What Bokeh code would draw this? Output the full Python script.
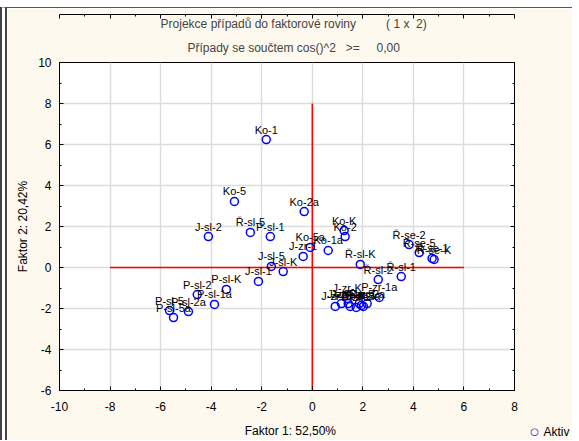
from bokeh.plotting import figure
from bokeh.models import (Range1d, FixedTicker, LinearAxis, Title, Label,
                          ColumnDataSource)
from bokeh.core.properties import value
from bokeh.embed import file_html
from bokeh.resources import INLINE

# ---- data ----
names = ["Ko-1", "Ko-5", "Ko-2a", "J-sl-2", "Ř-sl-5", "P-sl-1", "Ko-5a", "Ko-1a",
         "J-zr-1", "J-sl-5", "J-sl-K", "J-sl-1", "P-sl-K", "P-sl-2", "P-sl-1a",
         "P-sl-2a", "P-sl-5", "P-sl-5a", "Ko-K", "Ko-2", "Ř-sl-K", "Ř-sl-2",
         "Ř-sl-1", "Ř-se-2", "Ř-se-5", "Ř-se-1", "Ř-se-K",
         "J-zr-K", "P-zr-1a", "J-zr-2", "J-zr-5", "J-zr-1a", "P-zr-K", "P-zr-2",
         "P-zr-5", "P-zr-1", "J-zr-2a", "P-zr-2a"]
factor1 = [-1.82, -3.08, -0.32, -4.11, -2.45, -1.66, -0.08, 0.63,
           -0.36, -1.62, -1.15, -2.13, -3.40, -4.55, -3.87,
           -4.90, -5.65, -5.49, 1.26, 1.30, 1.90, 2.61,
           3.52, 3.83, 4.23, 4.74, 4.82,
           1.38, 2.65, 0.91, 1.15, 1.42, 1.50, 1.74,
           1.86, 1.94, 2.02, 2.17]
factor2 = [6.24, 3.22, 2.73, 1.51, 1.71, 1.51, 0.98, 0.83,
           0.54, 0.05, -0.20, -0.68, -1.07, -1.32, -1.80,
           -2.15, -2.10, -2.44, 1.80, 1.51, 0.15, -0.59,
           -0.44, 1.12, 0.73, 0.44, 0.39,
           -1.51, -1.46, -1.90, -1.76, -1.76, -1.90, -1.95,
           -1.76, -1.85, -1.90, -1.76]

x_ticks = [-10, -8, -6, -4, -2, 0, 2, 4, 6, 8]
x_minor = [-9, -7, -5, -3, -1, 1, 3, 5, 7]
y_ticks = [-6, -4, -2, 0, 2, 4, 6, 8, 10]
y_minor = [-5, -3, -1, 1, 3, 5, 7, 9]

ref_h_x = [-8, 6]     # horizontal red reference line (at factor 2 = 0)
ref_v_y = [-6, 8]     # vertical red reference line (at factor 1 = 0)

NB = "\u00a0"
title1 = NB * 4 + "Projekce případů do faktorové roviny" + NB * 9 + "(" + NB + "1" + NB + "x" + NB * 2 + "2)"
title2 = NB * 4 + "Případy se součtem cos()^2" + NB * 3 + ">=" + NB * 5 + "0,00"
xlabel = NB * 2 + "Faktor 1: 52,50%"
ylabel = "Faktor 2: 20,42%"
legend_label = "Aktiv"

FONT = "Liberation Sans"
CREAM = "#FEF9EE"

p = figure(width=572, height=433, output_backend="svg", toolbar_location=None,
           x_range=Range1d(-10, 8), y_range=Range1d(-6, 10),
           background_fill_color="white", border_fill_color=CREAM,
           min_border_left=52, min_border_right=65, min_border_top=54,
           min_border_bottom=51)
p.styles = {"border-left": "7px double #444", "border-top": "1px solid #555",
            "margin-top": "7px"}
p.outline_line_color = "black"
p.outline_line_width = 1

# titles (first added is closest to the frame)
p.add_layout(Title(text=title2, align="center", text_font=FONT, text_font_size="12px",
                   text_font_style="normal", standoff=15), "above")
p.add_layout(Title(text=title1, align="center", text_font=FONT, text_font_size="12px",
                   text_font_style="normal", standoff=1), "above")

for ax in (p.xaxis[0], p.yaxis[0]):
    ax.major_tick_in = 4
    ax.major_tick_out = 0
    ax.minor_tick_in = 2
    ax.minor_tick_out = 0
    ax.axis_line_color = "black"
    ax.major_tick_line_color = "black"
    ax.minor_tick_line_color = "black"
    ax.major_label_text_font = FONT
    ax.major_label_text_font_size = "12px"
    ax.major_label_text_color = "black"
    ax.axis_label_text_font = FONT
    ax.axis_label_text_font_size = "12px"
    ax.axis_label_text_font_style = "normal"
    ax.axis_label_text_color = "black"

p.xaxis[0].ticker = FixedTicker(ticks=x_ticks, minor_ticks=x_minor)
p.yaxis[0].ticker = FixedTicker(ticks=y_ticks, minor_ticks=y_minor)
p.xaxis[0].major_label_overrides = {t: str(t) for t in x_ticks}
p.yaxis[0].major_label_overrides = {t: str(t) for t in y_ticks}
p.xaxis[0].axis_label = xlabel
p.yaxis[0].axis_label = ylabel
p.xaxis[0].major_label_standoff = 11
p.xaxis[0].axis_label_standoff = 10
p.yaxis[0].major_label_standoff = 8
p.yaxis[0].axis_label_standoff = 5

# top and right axes: ticks only
top = LinearAxis(ticker=FixedTicker(ticks=x_ticks, minor_ticks=x_minor))
right = LinearAxis(ticker=FixedTicker(ticks=y_ticks, minor_ticks=y_minor))
for ax in (top, right):
    ax.major_tick_in = 4
    ax.major_tick_out = 0
    ax.minor_tick_in = 2
    ax.minor_tick_out = 0
    ax.major_label_text_font_size = "0px"
    ax.major_label_standoff = 0
    ax.axis_line_color = "black"
p.add_layout(top, "above")
p.add_layout(right, "right")

p.xgrid.ticker = FixedTicker(ticks=x_ticks)
p.ygrid.ticker = FixedTicker(ticks=y_ticks)
p.xgrid.grid_line_color = "#DCDCDC"
p.ygrid.grid_line_color = "#DCDCDC"
p.xgrid.grid_line_width = 1.5
p.ygrid.grid_line_width = 1.5

# red reference lines
p.line(x=ref_h_x, y=[0, 0], line_color="#FF0000", line_width=1.5)
p.line(x=[0, 0], y=ref_v_y, line_color="#FF0000", line_width=1.5)

src = ColumnDataSource(dict(x=factor1, y=factor2, name=names))
r = p.scatter("x", "y", source=src, marker="circle", size=8, fill_color=None,
              line_color="#0000FF", line_width=1.5)
p.text("x", "y", text="name", source=src, text_font=value(FONT),
       text_font_size="11px", text_align="center", text_baseline="middle",
       y_offset=-10, text_color="black")

# legend key drawn as labels in the right side panel (outside the clipped frame)
p.add_layout(Label(x=20, y=-41, x_units="screen", y_units="screen", text="○",
                   text_color="#0000FF", text_font="DejaVu Sans",
                   text_font_size="10px", text_align="center",
                   text_baseline="middle"), "right")
p.add_layout(Label(x=20, y=-41, x_units="screen", y_units="screen", text=legend_label,
                   text_color="black", text_font=FONT,
                   text_font_size="12px", text_align="left",
                   text_baseline="middle"), "right")

open("out.html", "w").write(file_html(p, INLINE))
